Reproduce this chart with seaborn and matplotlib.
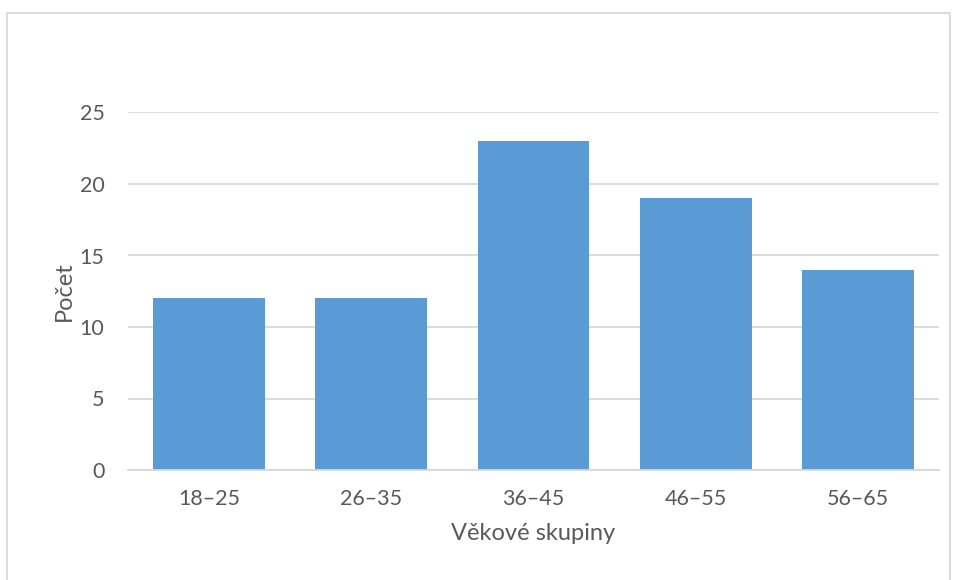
import matplotlib
matplotlib.use("Agg")
import matplotlib.pyplot as plt
import matplotlib.patches as mpatches
import seaborn as sns
import pandas as pd

# Age groups and respondent counts
categories = ["18–25", "26–35", "36–45", "46–55", "56–65"]
counts = [12, 12, 23, 19, 14]
y_ticks = [0, 5, 10, 15, 20, 25]

df = pd.DataFrame({"skupina": categories, "pocet": counts})

sns.set_theme(style="white")
plt.rcParams["font.family"] = ["Lato", "DejaVu Sans"]

text_color = "#595959"
grid_color = "#D9D9D9"

fig = plt.figure(figsize=(9.55, 5.8), dpi=100)
ax = fig.add_axes([128 / 955, 110 / 580, 811 / 955, 357.5 / 580])

sns.barplot(data=df, x="skupina", y="pocet", color="#5B9BD5", saturation=1,
            width=0.69, linewidth=0, ax=ax, zorder=3)

ax.set_ylim(0, 25)
ax.set_yticks(y_ticks)
ax.set_xlim(-0.5, len(categories) - 0.5)
ax.yaxis.grid(True, color=grid_color, linewidth=1.3, zorder=0)
ax.xaxis.grid(False)
for side in ["left", "right", "top"]:
    ax.spines[side].set_visible(False)
ax.spines["bottom"].set_color(grid_color)
ax.spines["bottom"].set_linewidth(1.3)
ax.spines["bottom"].set_zorder(4)

ax.tick_params(axis="both", length=0, labelsize=15.5, labelcolor=text_color)
ax.tick_params(axis="y", pad=17)
ax.tick_params(axis="x", pad=14)

ax.set_xlabel("Věkové skupiny", fontsize=17, color=text_color, labelpad=10)
ax.set_ylabel("Počet", fontsize=17, color=text_color, labelpad=3)

# Light frame around the whole chart
frame = mpatches.Rectangle((7 / 955, -0.05), 943 / 955, 1 - 13 / 580 + 0.05,
                           transform=fig.transFigure, fill=False,
                           edgecolor=grid_color, linewidth=1.3)
fig.patches.append(frame)

fig.savefig("out.png", dpi=100, facecolor="white")
